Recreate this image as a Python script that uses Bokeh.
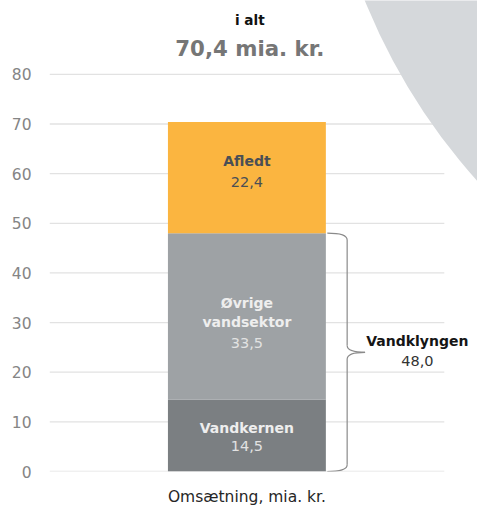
import numpy as np
from bokeh.plotting import figure
from bokeh.models import Range1d, FixedTicker, ColumnDataSource
from bokeh.core.properties import value
from bokeh.embed import file_html
from bokeh.resources import INLINE

# ---------------- data ----------------
categories = ["Vandkernen", "Øvrige vandsektor", "Afledt"]
values = [14.5, 33.5, 22.4]
name_lines = [["Vandkernen"], ["Øvrige", "vandsektor"], ["Afledt"]]
bar_category = "Omsætning, mia. kr."
cluster_label = "Vandklyngen"
cluster_segments = 2          # Vandkernen + Øvrige vandsektor
total_caption = "i alt"
total_unit = "mia. kr."
y_ticks = [0, 10, 20, 30, 40, 50, 60, 70, 80]

# ---------------- style ----------------
bar_colors = ["#7b7f82", "#9ea2a5", "#fbb540"]
name_colors = ["#eeeeee", "#eeeeee", "#4a4f55"]
value_colors = ["#e2e2e2", "#e2e2e2", "#4a4f55"]
FONT = value("DejaVu Sans")

W, H = 477, 508
S = 0.968                    # scale of the 493x524 design into 477x508
LEFT, BOTTOM = 49, 36
PLOT_W = 394.8               # pixel width of the [-0.5, 0.5] plot area
PX_X = 1.0 / PLOT_W
PX_PER_Y = 4.975             # pixels per y unit
PX_Y = 1.0 / PX_PER_Y
x_end = -0.5 + (W - LEFT) * PX_X
y_end = (H - BOTTOM) * PX_Y
BAR_W = 0.4

def fs(px):
    return f"{px * S:.1f}px"

fmt = lambda v: f"{v:.1f}".replace(".", ",")

vals = np.array(values)
tops = np.cumsum(vals)
bottoms = tops - vals
mids = bottoms + vals / 2

p = figure(width=W, height=H, x_range=Range1d(-0.5, x_end), y_range=Range1d(0, y_end),
           output_backend="svg", toolbar_location=None,
           min_border_left=LEFT, min_border_right=0, min_border_top=0, min_border_bottom=BOTTOM)
p.background_fill_color = "white"
p.border_fill_color = "white"
p.outline_line_color = None
p.xgrid.visible = False
p.ygrid.visible = False

# y axis
p.yaxis.ticker = FixedTicker(ticks=y_ticks)
p.yaxis.axis_line_color = None
p.yaxis.major_tick_line_color = None
p.yaxis.minor_tick_line_color = None
p.yaxis.major_tick_out = 0
p.yaxis.major_tick_in = 0
p.yaxis.major_label_standoff = 18
p.yaxis.major_label_text_font = "DejaVu Sans"
p.yaxis.major_label_text_font_size = fs(16)
p.yaxis.major_label_text_color = "#858585"

# x axis (single category)
p.xaxis.ticker = FixedTicker(ticks=[0])
p.xaxis.major_label_overrides = {0: bar_category}
p.xaxis.axis_line_color = None
p.xaxis.major_tick_line_color = None
p.xaxis.minor_tick_line_color = None
p.xaxis.major_tick_out = 0
p.xaxis.major_tick_in = 0
p.xaxis.major_label_standoff = 16
p.xaxis.major_label_text_font = "DejaVu Sans"
p.xaxis.major_label_text_font_size = fs(16)
p.xaxis.major_label_text_color = "#262626"

# gridlines
p.segment(x0=-0.5, x1=0.5, y0=y_ticks, y1=y_ticks, line_color="#e2e2e2", line_width=1.3)

# decorative background circle (top right)
p.circle(x=[-0.5 + (933.7 - LEFT) * PX_X], y=[(H - BOTTOM + 229.8) * PX_Y],
         radius=614, radius_units="screen", fill_color="#d5d8db", line_color=None)

# stacked bar
src = ColumnDataSource(dict(cat=categories, bottom=bottoms, top=tops, color=bar_colors))
p.vbar(x=0, width=BAR_W, bottom="bottom", top="top", fill_color="color", line_color=None, source=src)

# segment labels
name_off = [[-8], [-14, 6], [-17]]
value_off = [11, 28, 4.5]
for i in range(len(values)):
    for line, off in zip(name_lines[i], name_off[i]):
        p.text(x=[0], y=[mids[i]], text=[line], y_offset=off * S, text_align="center",
               text_baseline="middle", text_font=FONT, text_font_size=fs(14.5),
               text_font_style="bold", text_color=name_colors[i])
    p.text(x=[0], y=[mids[i]], text=[fmt(values[i])], y_offset=value_off[i] * S, text_align="center",
           text_baseline="middle", text_font=FONT, text_font_size=fs(15),
           text_color=value_colors[i])

# total title
total = float(vals.sum())
p.text(x=[0], y=[y_ticks[-1]], text=[total_caption], x_offset=3 * S, y_offset=-56 * S,
       text_align="center", text_baseline="middle", text_font=FONT,
       text_font_size=fs(14), text_font_style="bold", text_color="#111111")
p.text(x=[0], y=[y_ticks[-1]], text=[f"{fmt(total)} {total_unit}"], x_offset=3 * S, y_offset=-27 * S,
       text_align="center", text_baseline="middle", text_font=FONT,
       text_font_size=fs(22), text_font_style="bold", text_color="#767676")

# brace for the cluster
ctop = float(tops[cluster_segments - 1])
cmid = ctop / 2
bx0 = BAR_W / 2 + 1.5 * S * PX_X
bxm = BAR_W / 2 + 22 * S * PX_X
bxt = BAR_W / 2 + 40.5 * S * PX_X
c = 7 * S * PX_Y
brace_color = "#8a8a8a"
p.quadratic(x0=[bx0, bxm, bxt, bxm], y0=[ctop, cmid + c, cmid, c],
            x1=[bxm, bxt, bxm, bx0], y1=[ctop - c, cmid, cmid - c, 0],
            cx=[bxm, bxm, bxm, bxm], cy=[ctop, cmid, cmid, 0],
            line_color=brace_color, line_width=1.2)
p.segment(x0=[bxm, bxm], y0=[ctop - c, cmid - c], x1=[bxm, bxm], y1=[cmid + c, c],
          line_color=brace_color, line_width=1.2)

p.text(x=[bxt], y=[cmid], text=[cluster_label], x_offset=54 * S, y_offset=-12 * S,
       text_align="center", text_baseline="middle", text_font=FONT,
       text_font_size=fs(14.5), text_font_style="bold", text_color="#151515")
p.text(x=[bxt], y=[cmid], text=[fmt(ctop)], x_offset=54 * S, y_offset=9 * S,
       text_align="center", text_baseline="middle", text_font=FONT,
       text_font_size=fs(15), text_color="#333333")

open("out.html", "w").write(file_html(p, INLINE))
